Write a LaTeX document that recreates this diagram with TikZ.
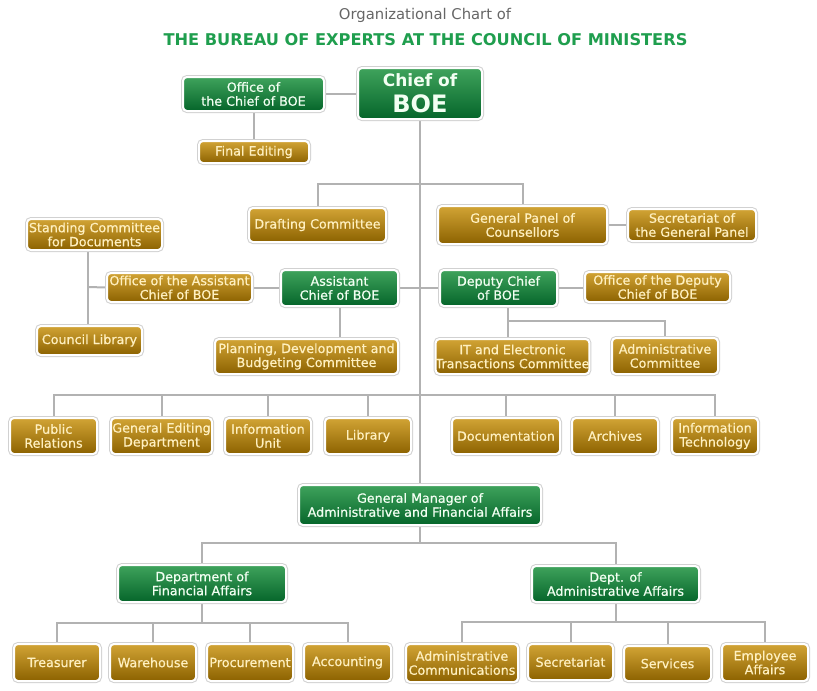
\documentclass[tikz,border=0pt]{standalone}
\usepackage{fontspec}
\setmainfont{DejaVu Sans}
\newfontfamily\boxfont{DejaVu Sans}[FakeBold=0.6]
\usetikzlibrary{backgrounds}
\definecolor{goldT}{HTML}{D2A435}
\definecolor{goldB}{HTML}{8C6200}
\definecolor{greenT}{HTML}{3FA35C}
\definecolor{greenB}{HTML}{05652A}
\definecolor{goldTxt}{HTML}{FFF0C0}
\definecolor{greenTxt}{HTML}{F2FFF2}
\definecolor{lineC}{HTML}{B2B2B2}
\definecolor{titleG}{HTML}{1F9E4E}
\definecolor{titleGray}{HTML}{666666}
\tikzset{
  basebox/.style={rounded corners=4pt, draw=white, line width=2pt, inner sep=0pt,
    align=center, font=\boxfont\fontsize{12.7}{14}\selectfont,
    preaction={draw=black!18, line width=4pt}},
  goldbox/.style={basebox, top color=goldT, bottom color=goldB, text=goldTxt},
  greenbox/.style={basebox, top color=greenT, bottom color=greenB, text=greenTxt},
  conn/.style={draw=lineC, line width=2pt},
}
\newcommand\bx[7]{%
  \pgfmathsetmacro\cx{(#3+#5)/2}%
  \pgfmathsetmacro\cy{(#4+#6)/2}%
  \pgfmathsetmacro\ww{#5-#3-2}%
  \pgfmathsetmacro\hh{#6-#4-2}%
  \node[#2, minimum width=\ww pt, minimum height=\hh pt] (#1) at (\cx,\cy) {#7};}
\begin{document}
\begin{tikzpicture}[x=1pt,y=-1pt]
\useasboundingbox (0,0) rectangle (817,691);
\node[text=titleGray, font=\fontsize{14.8}{16}\selectfont] (t1) at (425,15) {Organizational Chart of};
\node[text=titleG, font=\fontsize{16.2}{18}\selectfont\bfseries] (t2) at (425.5,40) {THE BUREAU OF EXPERTS AT THE COUNCIL OF MINISTERS};
% top
\bx{chief}{greenbox}{357}{67}{483}{120}{{\rmfamily\bfseries\fontsize{17}{20}\selectfont Chief of}\\[7pt]{\rmfamily\bfseries\fontsize{24}{26}\selectfont BOE}}
\bx{offchief}{greenbox}{182}{76}{325}{112}{Office of\\the Chief of BOE}
\bx{final}{goldbox}{198}{140}{310}{164}{Final Editing}
\bx{draft}{goldbox}{248}{207}{387}{243}{Drafting Committee}
\bx{panel}{goldbox}{437}{205}{608}{245}{General Panel of\\Counsellors}
\bx{secpanel}{goldbox}{627}{208}{757}{242}{Secretariat of\\the General Panel}
\bx{standing}{goldbox}{26}{218}{163}{251}{Standing Committee\\for Documents}
\bx{offasst}{goldbox}{106}{272}{253}{303}{Office of the Assistant\\Chief of BOE}
\bx{asst}{greenbox}{280}{269}{399}{307}{Assistant\\Chief of BOE}
\bx{councillib}{goldbox}{36}{325}{143}{356}{Council Library}
\bx{planning}{goldbox}{214}{338}{399}{375}{Planning, Development and\\Budgeting Committee}
\bx{deputy}{greenbox}{439}{269}{558}{307}{Deputy Chief\\of BOE}
\bx{offdep}{goldbox}{584}{271}{731}{303}{Office of the Deputy\\Chief of BOE}
\bx{itc}{goldbox}{437}{338}{588}{375}{IT and Electronic\\Transactions Committee}
\bx{admc}{goldbox}{611}{337}{719}{375}{Administrative\\Committee}
% row
\bx{pr}{goldbox}{9}{417}{98}{455}{Public\\Relations}
\bx{ged}{goldbox}{110}{417}{213}{455}{General Editing\\Department}
\bx{iu}{goldbox}{224}{417}{312}{455}{Information\\Unit}
\bx{lib}{goldbox}{324}{417}{412}{455}{Library}
\bx{doc}{goldbox}{451}{417}{561}{455}{Documentation}
\bx{arch}{goldbox}{571}{417}{659}{455}{Archives}
\bx{itech}{goldbox}{671}{417}{759}{455}{Information\\Technology}
% lower
\bx{gm}{greenbox}{298}{484}{542}{526}{General Manager of\\Administrative and Financial Affairs}
\bx{dfa}{greenbox}{117}{564}{287}{603}{Department of\\Financial Affairs}
\bx{daa}{greenbox}{531}{565}{700}{603}{Dept. of\\Administrative Affairs}
\bx{treas}{goldbox}{13}{643}{101}{682}{Treasurer}
\bx{ware}{goldbox}{109}{643}{197}{682}{Warehouse}
\bx{proc}{goldbox}{206}{643}{294}{682}{Procurement}
\bx{acc}{goldbox}{303}{643}{392}{682}{Accounting}
\bx{admcom}{goldbox}{405}{643}{519}{683}{Administrative\\Communications}
\bx{secr}{goldbox}{527}{643}{614}{681}{Secretariat}
\bx{serv}{goldbox}{623}{645}{712}{682}{Services}
\bx{empl}{goldbox}{721}{643}{809}{682}{Employee\\Affairs}
\begin{scope}[on background layer]
\coordinate (j1) at (420,184);
\coordinate (sbar) at (88,287);
\coordinate (dj) at (508,321);
\coordinate (rowbar) at (420,395);
\coordinate (gj) at (420,543);
\coordinate (fj) at (201,623);
\coordinate (aj) at (617,622);
\draw[conn] (chief.south) -- (gm.north);
\draw[conn] (offchief.east) -- (offchief.east -| chief.west);
\draw[conn] (offchief.south) -- (offchief.south |- final.north);
\draw[conn] (draft.north) |- (j1) -| (panel.north);
\draw[conn] (panel.east) -- (secpanel.west);
\draw[conn] (offasst.west) -- (sbar);
\draw[conn] (sbar |- standing.south) -- (sbar |- councillib.north);
\draw[conn] (offasst.east) -- (offasst.east -| asst.west);
\draw[conn] (asst.east) -- (asst.east -| deputy.west);
\draw[conn] (asst.south) -- (asst.south |- planning.north);
\draw[conn] (deputy.east) -- (deputy.east -| offdep.west);
\draw[conn] (dj |- deputy.south) -- (dj |- itc.north);
\draw[conn] (dj) -| (admc.north);
\draw[conn] (pr.north) |- (rowbar) -| (itech.north);
\draw[conn] (ged.north) -- (ged.north |- rowbar);
\draw[conn] (iu.north) -- (iu.north |- rowbar);
\draw[conn] (lib.north) -- (lib.north |- rowbar);
\draw[conn] (doc.north) -- (doc.north |- rowbar);
\draw[conn] (arch.north) -- (arch.north |- rowbar);
\draw[conn] (gm.south) -- (gj);
\draw[conn] (dfa.north) |- (gj) -| (daa.north);
\draw[conn] (dfa.south) -- (dfa.south |- fj);
\draw[conn] (treas.north) |- (fj) -| (acc.north);
\draw[conn] (ware.north) -- (ware.north |- fj);
\draw[conn] (proc.north) -- (proc.north |- fj);
\draw[conn] (daa.south) -- (daa.south |- aj);
\draw[conn] (admcom.north) |- (aj) -| (empl.north);
\draw[conn] (secr.north) -- (secr.north |- aj);
\draw[conn] (serv.north) -- (serv.north |- aj);
\end{scope}
\end{tikzpicture}
\end{document}
